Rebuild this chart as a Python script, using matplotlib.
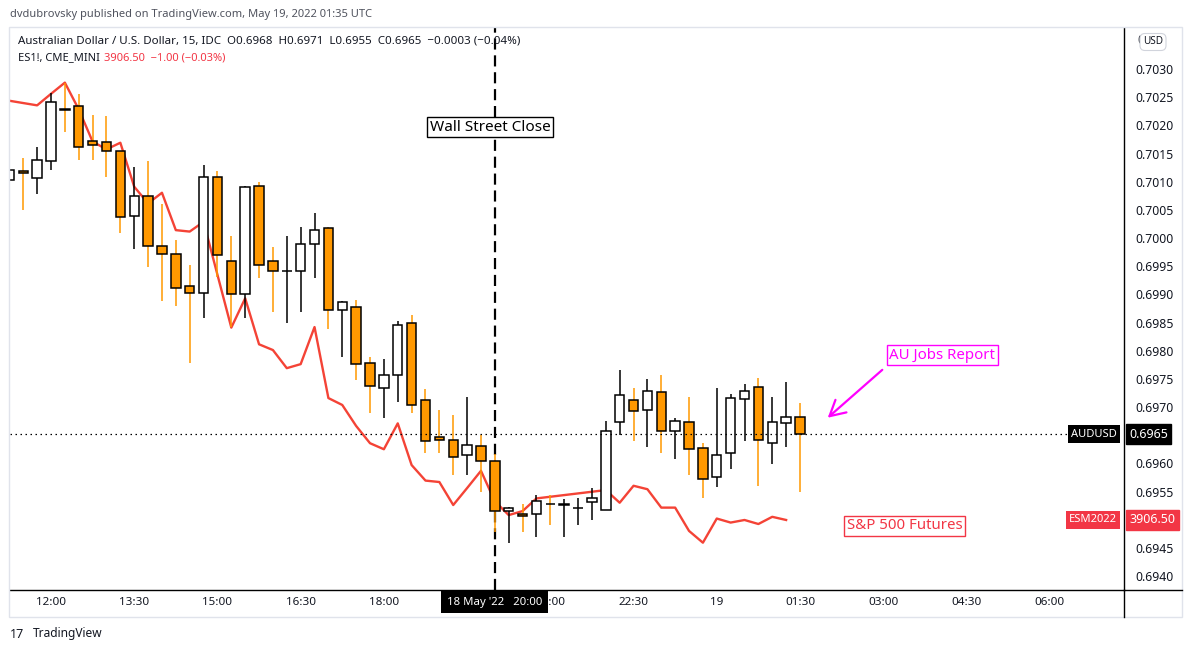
import matplotlib
matplotlib.use('Agg')
import matplotlib.pyplot as plt
import matplotlib.dates as mdates
import matplotlib.transforms as mtransforms
from matplotlib.lines import Line2D
from matplotlib.patches import Rectangle
import numpy as np
import pandas as pd

plt.rcParams['font.family'] = ['Noto Sans', 'DejaVu Sans']

# ---------------- data ----------------
bar_times = pd.date_range('2022-05-18 11:15', periods=58, freq='15min')
opens = [0.70103, 0.70119, 0.70106, 0.70137, 0.70228, 0.70234, 0.70172, 0.70170, 0.70154, 0.70039,
         0.70074, 0.69985, 0.69971, 0.69914, 0.69902, 0.70108, 0.69959, 0.69900, 0.70093, 0.69959,
         0.69941, 0.69941, 0.69990, 0.70018, 0.69873, 0.69877, 0.69779, 0.69733, 0.69757, 0.69850,
         0.69713, 0.69646, 0.69642, 0.69614, 0.69630, 0.69605, 0.69516, 0.69510, 0.69510, 0.69528,
         0.69526, 0.69520, 0.69532, 0.69518, 0.69673, 0.69713, 0.69695, 0.69726, 0.69657, 0.69673,
         0.69627, 0.69575, 0.69618, 0.69715, 0.69736, 0.69637, 0.69671, 0.69682]
highs = [0.70154, 0.70142, 0.70161, 0.70257, 0.70275, 0.70256, 0.70218, 0.70216, 0.70155, 0.70126,
         0.70136, 0.70060, 0.69997, 0.69952, 0.70129, 0.70119, 0.70003, 0.70093, 0.70100, 0.69984,
         0.70003, 0.70019, 0.70044, 0.70020, 0.69888, 0.69890, 0.69789, 0.69785, 0.69852, 0.69863,
         0.69732, 0.69695, 0.69686, 0.69717, 0.69650, 0.69616, 0.69522, 0.69528, 0.69543, 0.69543,
         0.69536, 0.69538, 0.69557, 0.69675, 0.69766, 0.69734, 0.69750, 0.69757, 0.69680, 0.69718,
         0.69637, 0.69734, 0.69724, 0.69741, 0.69752, 0.69717, 0.69744, 0.69707]
lows = [0.70071, 0.70049, 0.70079, 0.70120, 0.70189, 0.70138, 0.70138, 0.70109, 0.70009, 0.69980,
        0.69949, 0.69889, 0.69879, 0.69778, 0.69858, 0.69931, 0.69842, 0.69858, 0.69929, 0.69869,
        0.69849, 0.69869, 0.69929, 0.69839, 0.69789, 0.69748, 0.69690, 0.69680, 0.69709, 0.69690,
        0.69619, 0.69619, 0.69579, 0.69579, 0.69550, 0.69479, 0.69459, 0.69479, 0.69470, 0.69490,
        0.69470, 0.69490, 0.69500, 0.69518, 0.69650, 0.69639, 0.69629, 0.69619, 0.69608, 0.69580,
        0.69538, 0.69558, 0.69590, 0.69639, 0.69559, 0.69599, 0.69629, 0.69550]
closes = [0.70121, 0.70116, 0.70138, 0.70241, 0.70227, 0.70161, 0.70165, 0.70155, 0.70037, 0.70074,
          0.69985, 0.69971, 0.69912, 0.69902, 0.70108, 0.69970, 0.69900, 0.70090, 0.69952, 0.69941,
          0.69941, 0.69990, 0.70015, 0.69872, 0.69886, 0.69777, 0.69737, 0.69757, 0.69846, 0.69704,
          0.69639, 0.69642, 0.69611, 0.69633, 0.69605, 0.69516, 0.69520, 0.69506, 0.69534, 0.69527,
          0.69526, 0.69520, 0.69538, 0.69658, 0.69721, 0.69693, 0.69729, 0.69657, 0.69675, 0.69625,
          0.69573, 0.69614, 0.69716, 0.69729, 0.69641, 0.69673, 0.69682, 0.69652]

es_times = ['11:15', '11:30', '11:45', '12:00', '12:15', '12:30', '12:45', '13:00', '13:15', '13:30',
            '13:45', '14:00', '14:15', '14:30', '14:45', '15:00', '15:15', '15:30', '15:45', '16:00',
            '16:15', '16:30', '16:45', '17:00', '17:15', '17:30', '17:45', '18:00', '18:15', '18:30',
            '18:45', '19:00', '19:15', '19:30', '19:45', '20:00', '20:15', '20:30', '20:45', '22:00',
            '22:15', '22:30', '22:45', '23:00', '23:15', '23:30', '23:45', '00:00', '00:15', '00:30',
            '00:45', '01:00', '01:15']
es_values = [4052.3, 4051.5, 4050.7, 4054.7, 4058.6, 4049.3, 4038.1, 4035.4, 4037.7, 4022.4,
             4016.6, 4020.3, 4007.3, 4006.8, 4010.2, 3991.8, 3973.4, 3983.6, 3967.6, 3965.6,
             3959.3, 3960.7, 3973.6, 3948.9, 3946.5, 3939.2, 3933.2, 3931.1, 3940.1, 3925.6,
             3920.2, 3919.7, 3911.7, 3917.6, 3923.6, 3913.0, 3908.2, 3909.6, 3914.0, 3916.9,
             3912.5, 3918.4, 3917.2, 3910.8, 3910.8, 3902.7, 3898.6, 3907.0, 3905.6, 3906.5,
             3905.1, 3907.6, 3906.5]

# 19:30 label sits under the crosshair time label in the reference, so it is not shown
x_tick_times = ['12:00', '13:30', '15:00', '16:30', '18:00', '21:00', '22:30',
                '00:00', '01:30', '03:00', '04:30', '06:00']
x_tick_labels = ['12:00', '13:30', '15:00', '16:30', '18:00', '21:00', '22:30',
                 '19', '01:30', '03:00', '04:30', '06:00']
# 0.6950 and 0.6965 are covered by the price labels in the reference
y_ticks = [0.6940, 0.6945, 0.6955, 0.6960, 0.6970, 0.6975, 0.6980, 0.6985,
           0.6990, 0.6995, 0.7000, 0.7005, 0.7010, 0.7015, 0.7020, 0.7025, 0.7030]

price_range = (0.693752, 0.703728)
es_range = (3882.15, 4077.6)


def t(hhmm, sec=0):
    h = int(hhmm[:2])
    day = 18 if h >= 11 else 19
    return mdates.date2num(pd.Timestamp(f'2022-05-{day} {hhmm}') + pd.Timedelta(seconds=sec))


# ---------------- figure ----------------
W, H = 1192, 652
fig = plt.figure(figsize=(W / 100, H / 100), dpi=100)
fig.patch.set_facecolor('white')


def fx(px):
    return px / W


def fy(py):
    return 1 - py / H


ax_l, ax_r, ax_t, ax_b = 10, 1124, 28, 590
ax = fig.add_axes([fx(ax_l), fy(ax_b), (ax_r - ax_l) / W, (ax_b - ax_t) / H])
axp = ax.twinx()

BLACK = '#131722'
ORANGE = '#ff9800'
RED = '#f23645'
MAG = '#ff00ff'

x_left = t('11:15', 40)
x_right = t('07:20', 24)
ax.set_xlim(x_left, x_right)
ax.set_ylim(*es_range)
axp.set_ylim(*price_range)

# ES line (bottom layer)
es_x = [t(s) for s in es_times]
ax.plot(es_x, es_values, color='#f44336', lw=1.7, zorder=2, solid_joinstyle='round')

# dashed Wall Street close line
axp.axvline(t('20:00'), color='black', lw=1.6, linestyle=(0, (5, 2.6)), zorder=1.5)

# candles
xs = mdates.date2num(bar_times)
o = np.array(opens)
c = np.array(closes)
hi = np.array(highs)
lo = np.array(lows)
up = c >= o
wick_cols = ['black' if u else ORANGE for u in up]
axp.vlines(xs, lo, hi, colors=wick_cols, lw=1.1, zorder=2)
bar_w = 0.68 * 15 / 1440
bottoms = np.minimum(o, c)
heights = np.maximum(np.abs(c - o), 0.000012)
faces = ['white' if u else ORANGE for u in up]
axp.bar(xs, heights, bottom=bottoms, width=bar_w, color=faces, edgecolor='black',
        linewidth=1.1, zorder=3)

# last price dotted line
last = closes[-1]
axp.axhline(last, xmin=0, xmax=(1073 - ax_l) / (ax_r - ax_l), color='black', lw=0.9,
            linestyle=(0, (1.2, 2.8)), zorder=4)

# annotations
ann_fs = 11.0
axp.text(t('19:55'), 0.70197, 'Wall Street Close', ha='center', va='center', fontsize=ann_fs,
         color='black', zorder=6,
         bbox=dict(boxstyle='square,pad=0.17', fc='white', ec='black', lw=1))
axp.text(t('04:04'), 0.69792, 'AU Jobs Report', ha='center', va='center', fontsize=10.8,
         color=MAG, zorder=6,
         bbox=dict(boxstyle='square,pad=0.18', fc='white', ec=MAG, lw=1))
axp.annotate('', xy=(t('02:00'), 0.69681), xytext=(t('02:59'), 0.69766),
             arrowprops=dict(arrowstyle='->,head_length=0.55,head_width=0.3', color=MAG, lw=1.6,
                             mutation_scale=20, shrinkA=0, shrinkB=0), zorder=6)
axp.text(t('03:23'), 0.69489, 'S&P 500 Futures', ha='center', va='center', fontsize=10.8,
         color=RED, zorder=6,
         bbox=dict(boxstyle='square,pad=0.18', fc='white', ec=RED, lw=1))

# axes styling
for s in ax.spines.values():
    s.set_visible(False)
for s in axp.spines.values():
    s.set_visible(False)
ax.spines['bottom'].set_visible(True)
ax.spines['bottom'].set_color('black')
ax.spines['bottom'].set_linewidth(1)
axp.spines['right'].set_visible(True)
axp.spines['right'].set_color('black')
axp.spines['right'].set_linewidth(1)

ax.set_yticks([])
ax.set_xticks([t(s) for s in x_tick_times])
ax.set_xticklabels(x_tick_labels)
ax.tick_params(axis='x', length=0, pad=5.0, labelsize=8.4, labelcolor=BLACK)
ax.set_xlim(x_left, x_right)
axp.set_yticks(y_ticks)
axp.set_yticklabels([f'{v:.4f}' for v in y_ticks])
axp.tick_params(axis='y', length=0, pad=8.2, labelsize=8.8, labelcolor=BLACK)

# price labels
tp = mtransforms.blended_transform_factory(axp.transAxes, axp.transData)
te = mtransforms.blended_transform_factory(ax.transAxes, ax.transData)
wpx = ax_r - ax_l
lab_fs = 9.0
axp.text((1117 - ax_l) / wpx, last, 'AUDUSD', transform=tp, ha='right', va='center',
         fontsize=8.0, fontweight='bold', color='white', zorder=8, clip_on=False,
         bbox=dict(boxstyle='square,pad=0.3', fc='black', ec='none'))
axp.text((1129 - ax_l) / wpx, last, f'{last:.4f}', transform=tp, ha='left', va='center',
         fontsize=lab_fs, fontweight='bold', color='white', zorder=8, clip_on=False,
         bbox=dict(boxstyle='square,pad=0.28', fc='black', ec='black'))
axp.text((1117 - ax_l) / wpx, es_values[-1], 'ESM2022', transform=te, ha='right', va='center',
         fontsize=8.0, fontweight='bold', color='white', zorder=8, clip_on=False,
         bbox=dict(boxstyle='square,pad=0.3', fc=RED, ec='none'))
axp.text((1129 - ax_l) / wpx, es_values[-1], f'{es_values[-1]:.2f}', transform=te, ha='left',
         va='center', fontsize=lab_fs, fontweight='bold', color='white', zorder=8, clip_on=False,
         bbox=dict(boxstyle='square,pad=0.28', fc=RED, ec=RED))
axp.text((1137 - ax_l) / wpx, 0.7035, '0', transform=tp, ha='left', va='center', fontsize=8.8,
         color=BLACK, clip_on=False)

# crosshair time label
tc = mtransforms.blended_transform_factory(axp.transData, axp.transAxes)
axp.text(t('20:00'), -(602 - ax_b) / (ax_b - ax_t), "18 May '22   20:00", transform=tc,
         ha='center', va='center', fontsize=8.2, color='white', zorder=9, clip_on=False,
         bbox=dict(boxstyle='square,pad=0.5', fc='black', ec='none'))

# frame decorations
fig.add_artist(Rectangle((fx(9), fy(617)), (1182 - 9) / W, (617 - 27) / H, transform=fig.transFigure,
                         fill=False, ec='#e0e3eb', lw=1))
fig.add_artist(Line2D([fx(ax_r), fx(ax_r)], [fy(ax_b), fy(617)], transform=fig.transFigure,
                      color='black', lw=1))
fig.add_artist(Line2D([fx(ax_r), fx(1182)], [fy(ax_b), fy(ax_b)], transform=fig.transFigure,
                      color='black', lw=1))

# USD pill
fig.text(fx(1153), fy(42), 'USD', ha='center', va='center', fontsize=7.2, color=BLACK,
         bbox=dict(boxstyle='round,pad=0.3,rounding_size=0.5', fc='white', ec='#d1d4dc', lw=0.8))

# header / legend / footer
fig.text(fx(10), fy(14), 'dvdubrovsky published on TradingView.com, May 19, 2022 01:35 UTC',
         ha='left', va='center', fontsize=8.0, color='#50535e')
fig.text(fx(18), fy(41),
         'Australian Dollar / U.S. Dollar, 15, IDC  O0.6968  H0.6971  L0.6955  C0.6965  \u22120.0003 (\u22120.04%)',
         ha='left', va='center', fontsize=8.3, color=BLACK)
fig.text(fx(18), fy(58), 'ES1!, CME_MINI', ha='left', va='center', fontsize=8.0, color=BLACK)
fig.text(fx(104), fy(58), '3906.50  \u22121.00 (\u22120.03%)', ha='left', va='center',
         fontsize=8.0, color=RED)
fig.text(fx(10), fy(634), '17', ha='left', va='center', fontsize=9, fontweight='bold',
         color=BLACK)
fig.text(fx(33), fy(634), 'TradingView', ha='left', va='center', fontsize=8.6, color=BLACK)

fig.savefig('out.png', dpi=100, facecolor='white')
